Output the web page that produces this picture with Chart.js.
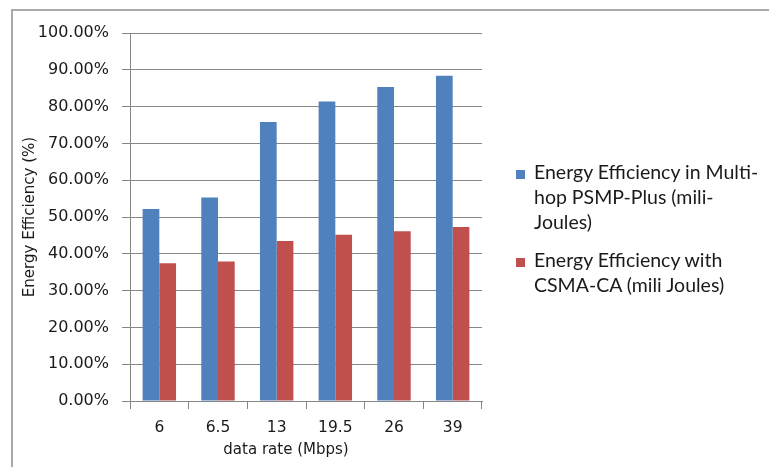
<!DOCTYPE html>
<html>
<head>
<meta charset="utf-8">
<script src="https://cdn.jsdelivr.net/npm/chart.js@4/dist/chart.umd.min.js"></script>
<style>
  html, body { margin: 0; padding: 0; background: #ffffff; }
  body { width: 769px; height: 467px; position: relative; overflow: hidden; }
  #frame {
    position: absolute; left: 11px; top: 9px; width: 800px; height: 500px;
    border-top: 2px solid #a9a9a9; border-left: 2px solid #a9a9a9;
  }
  #wrap { position: absolute; left: 0; top: 0; width: 769px; height: 467px; }
  #legend {
    position: absolute; left: 516px; top: 159px;
    font-family: "Lato", "Liberation Sans", sans-serif; font-size: 19.5px;
    color: #1a1a1a; line-height: 25px;
  }
  .item { position: relative; padding-left: 18px; margin-bottom: 13px; }
  .swatch { position: absolute; left: 0; top: 11px; width: 9px; height: 9px; }
</style>
</head>
<body>
<div id="frame"></div>
<div id="wrap"><canvas id="c" width="769" height="467"></canvas></div>
<div id="legend"></div>
<script>
// Data rates on the x axis (Mbps)
const dataRates = ['6', '6.5', '13', '19.5', '26', '39'];

// Energy efficiency, in percent
const psmpPlus = [52.2, 55.3, 75.8, 81.4, 85.3, 88.4];
const csmaCa   = [37.4, 37.9, 43.5, 45.2, 46.1, 47.3];

// Legend text, one entry per line as wrapped in the legend box
const psmpLabelLines = ['Energy Efficiency in Multi-', 'hop PSMP-Plus (mili-', 'Joules)'];
const csmaLabelLines = ['Energy Efficiency with', 'CSMA-CA (mili Joules)'];

const yTitle = 'Energy Efficiency (%)';
const xTitle = 'data rate (Mbps)';

const BLUE = '#4f81bd';
const RED = '#c0504d';
const GRID = '#878787';
const TEXT = '#1a1a1a';
const FONT = '"DejaVu Sans", Verdana, sans-serif';

const datasets = [
  { label: psmpLabelLines.join(''), data: psmpPlus, backgroundColor: BLUE, lines: psmpLabelLines },
  { label: csmaLabelLines.join(''), data: csmaCa, backgroundColor: RED, lines: csmaLabelLines }
];

// Draws the x-axis title a little left of the plot centre, under the labels
const xTitlePlugin = {
  id: 'xTitle',
  afterDraw(chart) {
    const { ctx, chartArea } = chart;
    ctx.save();
    ctx.font = '15px ' + FONT;
    ctx.fillStyle = TEXT;
    ctx.textAlign = 'center';
    ctx.textBaseline = 'middle';
    ctx.fillText(xTitle, (chartArea.left + chartArea.right) / 2 - 20, chartArea.bottom + 49);
    ctx.restore();
  }
};

const chart = new Chart(document.getElementById('c'), {
  type: 'bar',
  data: {
    labels: dataRates,
    datasets: datasets.map(d => ({
      label: d.label,
      data: d.data,
      backgroundColor: d.backgroundColor,
      borderWidth: 0,
      barPercentage: 1.0,
      categoryPercentage: 0.57
    }))
  },
  plugins: [xTitlePlugin],
  options: {
    responsive: false,
    animation: false,
    layout: { padding: { left: 12, right: 287, top: 33, bottom: 5 } },
    plugins: { legend: { display: false }, tooltip: { enabled: false } },
    scales: {
      x: {
        grid: { display: true, drawOnChartArea: false, drawTicks: true, tickLength: 8, color: GRID, offset: true },
        border: { display: true, color: GRID },
        ticks: { color: TEXT, font: { family: FONT, size: 15.5 }, padding: 10, maxRotation: 0 },
        afterFit: s => { s.height = 61; }
      },
      y: {
        min: 0, max: 100,
        grid: { color: GRID, tickLength: 8, drawTicks: true },
        border: { display: true, color: GRID },
        ticks: {
          stepSize: 10,
          color: TEXT,
          font: { family: FONT, size: 16 },
          padding: 13,
          callback: v => v.toFixed(2) + '%'
        },
        title: { display: true, text: yTitle, color: TEXT, font: { family: FONT, size: 15 }, padding: { top: 9, bottom: 4 } },
        afterFit: s => { s.width = 118; }
      }
    }
  }
});

// Legend built from the same datasets
const legend = document.getElementById('legend');
datasets.forEach(d => {
  const item = document.createElement('div');
  item.className = 'item';
  const sw = document.createElement('span');
  sw.className = 'swatch';
  sw.style.background = d.backgroundColor;
  item.appendChild(sw);
  d.lines.forEach(t => {
    const line = document.createElement('div');
    line.textContent = t;
    item.appendChild(line);
  });
  legend.appendChild(item);
});
</script>
</body>
</html>
